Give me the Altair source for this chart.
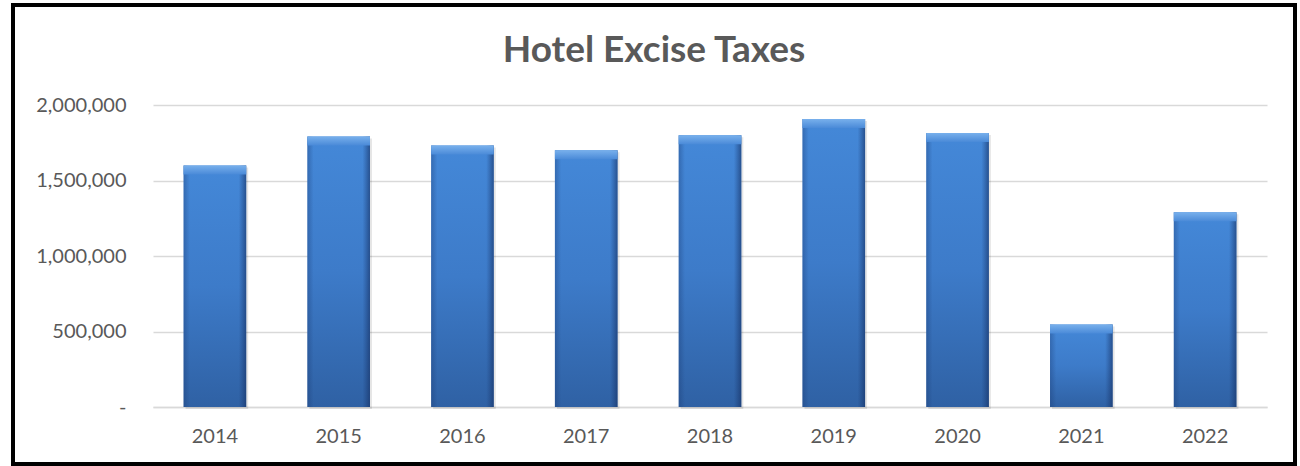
import altair as alt
import pandas as pd

# Annual hotel excise tax receipts
years = ["2014", "2015", "2016", "2017", "2018", "2019", "2020", "2021", "2022"]
receipts = [1600000, 1792000, 1731000, 1700000, 1799000, 1907000, 1815000, 546000, 1289000]
y_ticks = [0, 500000, 1000000, 1500000, 2000000]

df = pd.DataFrame({"year": years, "receipts": receipts})

W, H = 1114, 302
TEXT = "#595959"
GRID = "#d9d9d9"
FONT = "Lato"

x_enc = alt.X(
    "year:N",
    sort=years,
    title=None,
    scale=alt.Scale(paddingInner=0.494, paddingOuter=0.247),
    axis=alt.Axis(
        labelAngle=0, ticks=False, grid=False,
        domainColor=GRID, domainWidth=1.3,
        labelFont=FONT, labelFontSize=20, labelColor=TEXT, labelPadding=19,
    ),
)
y_enc = alt.Y(
    "receipts:Q",
    title=None,
    scale=alt.Scale(domain=[0, 2000000], nice=False),
    axis=alt.Axis(
        values=y_ticks, format=",d", ticks=False, domain=False,
        gridColor=GRID, gridWidth=1.3,
        labelFont=FONT, labelFontSize=20, labelColor=TEXT, labelPadding=27,
        labelExpr="datum.value === 0 ? '-\u00a0\u00a0\u00a0' : datum.label",
    ),
)

base = alt.Chart(df)

# soft shadow behind each column
shadow = base.mark_bar(color="#000000", opacity=0.10, xOffset=2, yOffset=2).encode(
    x=x_enc, y=y_enc
)

# column face with a vertical light-to-dark blend
face = base.mark_bar(
    color=alt.Gradient(
        gradient="linear", x1=0, y1=0, x2=0, y2=1,
        stops=[alt.GradientStop(color="#4488d8", offset=0),
               alt.GradientStop(color="#3d7bc9", offset=0.5),
               alt.GradientStop(color="#2f61a4", offset=1)],
    )
).encode(x=x_enc, y=y_enc)

# darker side edges for the bevelled look
edges = base.mark_bar(
    color=alt.Gradient(
        gradient="linear", x1=0, y1=0, x2=1, y2=0,
        stops=[alt.GradientStop(color="rgba(25,55,110,0.35)", offset=0),
               alt.GradientStop(color="rgba(25,55,110,0)", offset=0.1),
               alt.GradientStop(color="rgba(25,55,110,0)", offset=0.88),
               alt.GradientStop(color="rgba(20,45,95,0.6)", offset=1)],
    )
).encode(x=x_enc, y=y_enc)

# light bevel strip along each column top
bevel = base.mark_bar(
    y2Offset=9,
    color=alt.Gradient(
        gradient="linear", x1=0, y1=0, x2=0, y2=1,
        stops=[alt.GradientStop(color="#78b0ec", offset=0),
               alt.GradientStop(color="#4a8ad8", offset=1)],
    ),
).encode(x=x_enc, y=y_enc, y2="receipts:Q")

# outer frame around the whole figure
frame = alt.Chart(alt.Data(values=[{}])).mark_rect(
    fill="transparent", stroke="#000000", strokeWidth=4
).encode(
    x=alt.value(-140), x2=alt.value(W + 28),
    y=alt.value(-100), y2=alt.value(H + 57),
)

chart = alt.layer(frame, shadow, face, edges, bevel).properties(
    width=W,
    height=H,
    title=alt.TitleParams(
        "Hotel Excise Taxes",
        font=FONT, fontSize=37, fontWeight="bold", color=TEXT,
        anchor="middle", frame="bounds", offset=-67,
    ),
    autosize=alt.AutoSizeParams(type="none"),
    padding={"left": 153, "top": 105, "right": 33, "bottom": 59},
).configure(background="white").configure_view(stroke=None)

chart.save("out.html", embed_options={"renderer": "svg", "actions": False})
